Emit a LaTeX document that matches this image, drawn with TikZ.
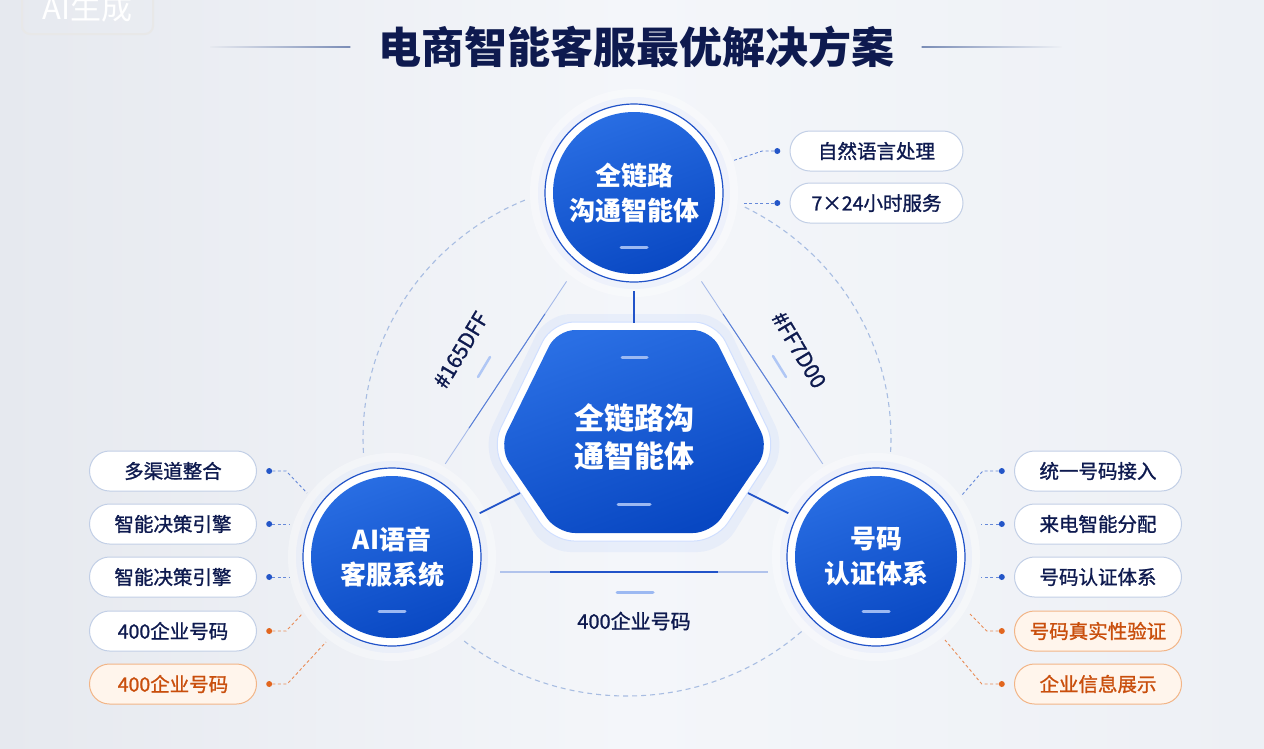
\documentclass[tikz,border=0pt]{standalone}
\usepackage{fontspec}
\setmainfont{Noto Sans CJK SC}
\newfontfamily\midfont[FakeBold=1.2]{Noto Sans CJK SC}
\usetikzlibrary{calc, positioning}

\definecolor{navy}{HTML}{0E1A4F}
\definecolor{hubblue}{HTML}{165DFF}
\definecolor{hubtop}{HTML}{2A6FE4}
\definecolor{hubbot}{HTML}{0847C2}
\definecolor{ringblue}{HTML}{2153C9}
\definecolor{pillline}{HTML}{C2CFE6}
\definecolor{warmline}{HTML}{F2B587}
\definecolor{warmfill}{HTML}{FFF5EC}
\definecolor{warmtext}{HTML}{C94E0C}
\definecolor{warmdot}{HTML}{E2661F}
\definecolor{dotblue}{HTML}{2456C8}
\definecolor{arcblue}{HTML}{A8BDE2}
\definecolor{barblue}{HTML}{9CB9F2}
\definecolor{bgA}{HTML}{E6E9EF}
\definecolor{bgB}{HTML}{F4F6FA}
\definecolor{bgC}{HTML}{EDF0F5}

\tikzset{
  hub/.style={circle, minimum size=178pt, inner sep=0pt, outer sep=9pt,
    draw=ringblue, line width=1.2pt, fill=white, text=white, align=center,
    font=\fontsize{26}{35}\selectfont\bfseries,
    path picture={\shade[top color=hubtop, bottom color=hubbot, shading angle=20]
      (path picture bounding box.center) circle (81pt);}},
  pill/.style={rectangle, rounded corners=20pt, draw=pillline, line width=1pt,
    fill=white, minimum width=167pt, minimum height=40pt, text=navy,
    font=\midfont\fontsize{19.5}{22}\selectfont},
  pillwarm/.style={pill, draw=warmline, fill=warmfill, text=warmtext},
  dotb/.style={circle, fill=dotblue, inner sep=0pt, minimum size=6pt},
  dotw/.style={dotb, fill=warmdot},
  linkb/.style={draw=dotblue!70, line width=0.9pt, dash pattern=on 3pt off 2.5pt},
  linkw/.style={linkb, draw=warmdot!75},
  hubline/.style={draw=ringblue, line width=1.8pt},
  thinlink/.style={draw=ringblue!75, line width=0.9pt},
  tickbar/.style={draw=barblue, line width=3pt, line cap=round},
  codetag/.style={text=navy, font=\midfont\fontsize{21}{24}\selectfont},
}

\begin{document}
\begin{tikzpicture}[x=1pt, y=-1pt]
  \shade[left color=bgA, right color=bgC, middle color=bgB] (0,0) rectangle (1264,748);
  \useasboundingbox (0,0) rectangle (1264,748);

  % watermark and title
  \node[draw=white!82!gray, line width=2pt, rounded corners=8pt, minimum width=131pt,
    minimum height=52pt, text=white, font=\fontsize{31}{31}\selectfont] (mark) at (87.5,8) {AI生成};
  \node[text=navy, font=\fontsize{43}{48}\selectfont\bfseries] (title) at (636,47) {电商智能客服最优解决方案};
  \shade[left color=bgA, right color=arcblue!70!navy] ($(title.west)+(-24,-0.8)$) rectangle ++(-140,1.6);
  \shade[left color=arcblue!70!navy, right color=bgC] ($(title.east)+(24,-0.8)$) rectangle ++(140,1.6);

  % dashed orbit, three visible pieces
  \foreach \ta/\tb in {176.7/247.4, -63.5/3.3, 48.6/128.9}
    \draw[arcblue, line width=1.1pt, dash pattern=on 5pt off 4pt, domain=\ta:\tb, samples=40, smooth]
      plot ({627+264*cos(\x)}, {438+258*sin(\x)});

  % soft halo under the hubs
  \foreach \cx/\cy in {634/193, 392/557, 876/557} {
    \fill[white, opacity=0.35] (\cx,\cy) circle (104pt);
    \fill[hubblue, opacity=0.04] (\cx,\cy) circle (96pt);
  }

  % centre hexagon
  \coordinate (hexN) at (634,323);
  \coordinate (hexSW) at (520,493);
  \coordinate (hexSE) at (748,493);
  \fill[hubblue, opacity=0.05, rounded corners=24pt] (546,314) -- (722,314) -- (786,448) -- (722,552) -- (546,552) -- (482,448) -- cycle;
  \filldraw[fill=white, draw=hubblue!20, line width=1pt, rounded corners=22pt]
    (552,322) -- (716,322) -- (777,448) -- (716,541) -- (552,541) -- (491,448) -- cycle;
  \shade[top color=hubtop, bottom color=hubbot, shading angle=20, rounded corners=18pt]
    (557,330) -- (711,330) -- (769,448) -- (711,533) -- (557,533) -- (499,448) -- cycle;
  \node[text=white, font=\fontsize{30}{38}\selectfont\bfseries, align=center] (core) at (634,437) {全链路沟\\通智能体};
  \draw[tickbar] (622,357) -- (647,357);
  \draw[tickbar] (618,504) -- (650,504);

  % hubs
  \node[hub] (top) at (634,193) {全链路\\沟通智能体};
  \node[hub] (ai) at (392,557) {AI语音\\客服系统};
  \node[hub] (num) at (876,557) {号码\\认证体系};
  \foreach \n in {top, ai, num}
    \draw[tickbar] ($(\n.center)+(-13,54)$) -- ++(26,0);

  \draw[hubline] (top) -- (hexN);
  \draw[hubline] (ai) -- (hexSW);
  \draw[hubline] (num) -- (hexSE);
  \draw[thinlink, draw=ringblue!40] ($(ai)!107pt!(top)+(-6,-4)$) -- ($(top)!111pt!(ai)+(-6,-4)$);
  \draw[thinlink] ($(ai)!150pt!(top)+(-6,-4)$) -- ($(top)!150pt!(ai)+(-6,-4)$);
  \draw[thinlink, draw=ringblue!40] ($(num)!107pt!(top)+(6,-4)$) -- ($(top)!111pt!(num)+(6,-4)$);
  \draw[thinlink] ($(num)!150pt!(top)+(6,-4)$) -- ($(top)!150pt!(num)+(6,-4)$);
  \draw[hubline, line width=1.3pt, draw=ringblue!35] ($(ai.east)+(10,15)$) -- ($(num.west)+(-10,15)$);
  \draw[hubline, line width=1.3pt] ($(ai.east)+(60,15)$) -- ($(num.west)+(-60,15)$);

  % edge labels
  \node[codetag, rotate=59] (blueTag) at (461,350) {\#165DFF};
  \node[codetag, rotate=-59] (orangeTag) at (799,350) {\#FF7D00};
  \draw[tickbar, line width=2.5pt, barblue!80] (478,377) -- (490,357);
  \draw[tickbar, line width=2.5pt, barblue!80] (773,356) -- (786,377);
  \draw[tickbar] (617,592) -- (653,592);
  \node[codetag, font=\midfont\fontsize{20}{24}\selectfont] (trunk) at (634,621) {400企业号码};

  % feature pills
  \foreach \i/\yy/\txt/\kind/\dk in {1/471/多渠道整合/pill/dotb, 2/524/智能决策引擎/pill/dotb,
      3/577/智能决策引擎/pill/dotb, 4/631/400企业号码/pill/dotw, 5/684/400企业号码/pillwarm/dotw} {
    \node[\kind] (L\i) at (173,\yy) {\txt};
    \node[\dk, right=9pt of L\i] (Ld\i) {};
  }
  \foreach \i/\yy/\txt/\kind/\dk in {1/471/统一号码接入/pill/dotb, 2/524/来电智能分配/pill/dotb,
      3/577/号码认证体系/pill/dotb, 4/631/号码真实性验证/pillwarm/dotw, 5/684/企业信息展示/pillwarm/dotw} {
    \node[\kind] (R\i) at (1098,\yy) {\txt};
    \node[\dk, left=9pt of R\i] (Rd\i) {};
  }
  \foreach \i/\yy/\txt in {1/151/自然语言处理, 2/203/7×24小时服务} {
    \node[pill, minimum width=173pt] (T\i) at (876.5,\yy) {\txt};
    \node[dotb, left=9pt of T\i] (Td\i) {};
  }

  % dashed leaders
  \coordinate (ea1) at (307,493);
  \coordinate (ea2) at (289,524);
  \coordinate (ea3) at (289,577);
  \coordinate (ea4) at (302,614);
  \coordinate (ea5) at (326,642);
  \coordinate (en1) at (962,495);
  \coordinate (en2) at (981,524);
  \coordinate (en3) at (981,577);
  \coordinate (en4) at (970,614);
  \coordinate (en5) at (945,640);
  \coordinate (et1) at (732,161);
  \coordinate (et2) at (742,203);
  \draw[linkb] (Ld1) -- ++(17,0) -- (ea1);
  \draw[linkb] (Ld2) -- (ea2);
  \draw[linkb] (Ld3) -- (ea3);
  \draw[linkw] (Ld4) -- ++(17,0) -- (ea4);
  \draw[linkw] (Ld5) -- ++(18,0) -- (ea5);
  \draw[linkb] (Rd1) -- ++(-19,0) -- (en1);
  \draw[linkb] (Rd2) -- (en2);
  \draw[linkb] (Rd3) -- (en3);
  \draw[linkw] (Rd4) -- ++(-15,0) -- (en4);
  \draw[linkw] (Rd5) -- ++(-20,0) -- (en5);
  \draw[linkb] (Td1) -- ++(-15,0) -- (et1);
  \draw[linkb] (Td2) -- (et2);
\end{tikzpicture}
\end{document}
